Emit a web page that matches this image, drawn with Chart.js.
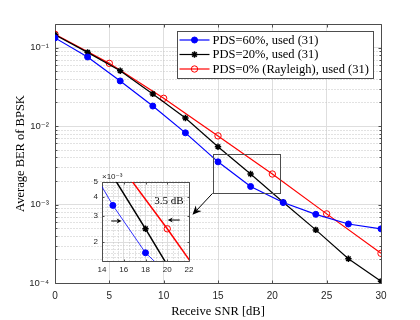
<!DOCTYPE html>
<html>
<head>
<meta charset="utf-8">
<script src="https://cdn.jsdelivr.net/npm/chart.js@4/dist/chart.umd.min.js"></script>
<style>
  html, body { margin: 0; padding: 0; background: #fff; }
  #wrap { position: relative; width: 420px; height: 320px; }
  #main { position: absolute; left: 0; top: 0; }
  #inset { position: absolute; left: 80px; top: 168px; }
</style>
</head>
<body>
<div id="wrap">
  <canvas id="main" width="420" height="320"></canvas>
  <canvas id="inset" width="120" height="110"></canvas>
</div>
<script>
// data
const snr = [0, 3, 6, 9, 12, 15, 18, 21, 24, 27, 30];
const berPds60 = [0.133, 0.076, 0.0376, 0.018, 0.0082, 0.0035, 0.0017, 0.00106, 0.00075, 0.000565, 0.00049];
const berPds20 = [0.146, 0.087, 0.0508, 0.0257, 0.0127, 0.00546, 0.00245, 0.00107, 0.000475, 0.000204, 0.000105];
const snrRayleigh = [0, 5, 10, 15, 20, 25, 30];
const berRayleigh = [0.148, 0.063, 0.0226, 0.0075, 0.00245, 0.00076, 0.000239];
const seriesLabels = ["PDS=60%, used (31)", "PDS=20%, used (31)", "PDS=0% (Rayleigh), used (31)"];
const seriesColors = ["#0000ff", "#000000", "#ff0000"];

const xTicks = [0, 5, 10, 15, 20, 25, 30];
const yTicks = [1e-4, 1e-3, 1e-2, 1e-1];
const insetXTicks = [14, 16, 18, 20, 22];
const insetYTicks = [2e-3, 3e-3, 4e-3, 5e-3];

const serif = "'Liberation Serif', 'Times New Roman', serif";
const sans = "'Liberation Sans', 'DejaVu Sans', Arial, sans-serif";
const frameColor = "#4d4d4d";
const textColor = "#262626";
const gridColor = "#dedede";
const minorGridColor = "#c4c4c4";

function toPoints(xs, ys) {
  return xs.map((x, i) => ({ x: x, y: ys[i] }));
}

function sup(n) {
  const m = { "-": "\u207b", "0": "\u2070", "1": "\u00b9", "2": "\u00b2", "3": "\u00b3", "4": "\u2074", "5": "\u2075", "6": "\u2076", "7": "\u2077", "8": "\u2078", "9": "\u2079" };
  return String(n).split("").map((c) => m[c]).join("");
}

function minorLogValues(min, max) {
  const out = [];
  for (let e = Math.floor(Math.log10(min)); e <= Math.ceil(Math.log10(max)); e++) {
    for (let k = 2; k <= 9; k++) {
      const v = k * Math.pow(10, e);
      if (v > min * 1.0001 && v < max * 0.9999) out.push(v);
    }
  }
  return out;
}

function makeDatasets(thin) {
  return [
    {
      label: seriesLabels[0],
      data: toPoints(snr, berPds60),
      borderColor: seriesColors[0],
      backgroundColor: seriesColors[0],
      borderWidth: thin ? 0.8 : 1.2,
      pointStyle: "circle",
      pointRadius: 3,
      pointBorderWidth: 1,
    },
    {
      label: seriesLabels[1],
      data: toPoints(snr, berPds20),
      borderColor: seriesColors[1],
      backgroundColor: seriesColors[1],
      borderWidth: thin ? 1.5 : 1.2,
      pointStyle: "star",
      pointRadius: 3.2,
      pointBorderWidth: 1.5,
    },
    {
      label: seriesLabels[2],
      data: toPoints(snrRayleigh, berRayleigh),
      borderColor: seriesColors[2],
      backgroundColor: "rgba(0,0,0,0)",
      borderWidth: thin ? 1.5 : 1.2,
      pointStyle: "circle",
      pointRadius: 3.2,
      pointBorderWidth: 1,
    },
  ];
}

// dotted minor grid, box frame and inward tick marks
function drawBox(chart, minorX, minorY, tickLen, minorLen) {
  const { ctx, chartArea: a, scales: { x, y } } = chart;
  const L = Math.round(a.left) + 0.5, R = Math.round(a.right) + 0.5;
  const T = Math.round(a.top) + 0.5, B = Math.round(a.bottom) + 0.5;
  ctx.save();
  ctx.lineWidth = 1;
  ctx.strokeStyle = minorGridColor;
  ctx.setLineDash([1, 2]);
  ctx.beginPath();
  minorX.forEach((v) => {
    const p = Math.round(x.getPixelForValue(v)) + 0.5;
    ctx.moveTo(p, T); ctx.lineTo(p, B);
  });
  minorY.forEach((v) => {
    const p = Math.round(y.getPixelForValue(v)) + 0.5;
    ctx.moveTo(L, p); ctx.lineTo(R, p);
  });
  ctx.stroke();
  ctx.setLineDash([]);
  ctx.strokeStyle = frameColor;
  ctx.beginPath();
  ctx.rect(L, T, R - L, B - T);
  x.ticks.forEach((t) => {
    const p = Math.round(x.getPixelForValue(t.value)) + 0.5;
    ctx.moveTo(p, B); ctx.lineTo(p, B - tickLen);
    ctx.moveTo(p, T); ctx.lineTo(p, T + tickLen);
  });
  y.ticks.forEach((t) => {
    const p = Math.round(y.getPixelForValue(t.value)) + 0.5;
    ctx.moveTo(L, p); ctx.lineTo(L + tickLen, p);
    ctx.moveTo(R, p); ctx.lineTo(R - tickLen, p);
  });
  if (minorLen) {
    minorY.forEach((v) => {
      const p = Math.round(y.getPixelForValue(v)) + 0.5;
      ctx.moveTo(L, p); ctx.lineTo(L + minorLen, p);
      ctx.moveTo(R, p); ctx.lineTo(R - minorLen, p);
    });
  }
  ctx.stroke();
  ctx.restore();
}

function drawArrow(ctx, x1, y1, x2, y2, len, half) {
  const ang = Math.atan2(y2 - y1, x2 - x1);
  const c = Math.cos(ang), s = Math.sin(ang);
  ctx.beginPath();
  ctx.moveTo(x1, y1);
  ctx.lineTo(x2 - c * len * 0.7, y2 - s * len * 0.7);
  ctx.stroke();
  ctx.beginPath();
  ctx.moveTo(x2, y2);
  ctx.lineTo(x2 - c * len - s * half, y2 - s * len + c * half);
  ctx.lineTo(x2 - c * len * 0.7, y2 - s * len * 0.7);
  ctx.lineTo(x2 - c * len + s * half, y2 - s * len - c * half);
  ctx.closePath();
  ctx.fill();
}

function drawMarker(ctx, ds, cx, cy) {
  ctx.save();
  ctx.strokeStyle = ds.borderColor;
  ctx.fillStyle = ds.backgroundColor;
  ctx.lineWidth = ds.pointBorderWidth;
  const r = ds.pointRadius;
  if (ds.pointStyle === "star") {
    ctx.beginPath();
    for (let k = 0; k < 4; k++) {
      const a = (k * Math.PI) / 4;
      ctx.moveTo(cx - r * Math.cos(a), cy - r * Math.sin(a));
      ctx.lineTo(cx + r * Math.cos(a), cy + r * Math.sin(a));
    }
    ctx.stroke();
  } else {
    ctx.beginPath();
    ctx.arc(cx, cy, r, 0, Math.PI * 2);
    ctx.fill();
    ctx.stroke();
  }
  ctx.restore();
}

const mainBox = {
  id: "mainBox",
  beforeDatasetsDraw(chart) {
    const y = chart.scales.y;
    drawBox(chart, [], minorLogValues(y.min, y.max), 3, 2);
  },
  afterDatasetsDraw(chart) {
    const { ctx, chartArea: a, scales: { x, y } } = chart;
    ctx.save();
    // zoom rectangle and arrow to the inset
    ctx.strokeStyle = frameColor;
    ctx.fillStyle = "#000";
    ctx.lineWidth = 1;
    const rx1 = x.getPixelForValue(14.5), rx2 = x.getPixelForValue(20.7);
    const ry1 = y.getPixelForValue(4.4e-3), ry2 = y.getPixelForValue(1.39e-3);
    ctx.strokeRect(Math.round(rx1) + 0.5, Math.round(ry1) + 0.5, Math.round(rx2 - rx1), Math.round(ry2 - ry1));
    ctx.strokeStyle = "#000";
    drawArrow(ctx, rx1, ry2, x.getPixelForValue(12.65), y.getPixelForValue(7.4e-4), 9, 4);

    // legend
    ctx.font = "12.5px " + serif;
    const tw = Math.max(...seriesLabels.map((t) => ctx.measureText(t).width));
    const w = Math.round(35 + tw + 5), h = 47;
    const lx = Math.round(a.right - 8 - w) + 0.5, ly = Math.round(a.top + 7) + 0.5;
    ctx.fillStyle = "#fff";
    ctx.fillRect(lx, ly, w, h);
    ctx.strokeStyle = frameColor;
    ctx.strokeRect(lx, ly, w, h);
    chart.data.datasets.forEach((ds, i) => {
      const ry = ly + 8.5 + i * 14.5;
      ctx.strokeStyle = ds.borderColor;
      ctx.lineWidth = 1.2;
      ctx.beginPath();
      ctx.moveTo(lx + 2, ry);
      ctx.lineTo(lx + 32, ry);
      ctx.stroke();
      drawMarker(ctx, ds, lx + 17, ry);
      ctx.fillStyle = "#000";
      ctx.textBaseline = "middle";
      ctx.textAlign = "left";
      ctx.fillText(ds.label, lx + 35, ry + 0.5);
    });
    ctx.restore();
  },
};

const insetBox = {
  id: "insetBox",
  beforeDraw(chart) {
    const { ctx, chartArea: a } = chart;
    ctx.save();
    ctx.fillStyle = "#fff";
    ctx.fillRect(a.left, a.top, a.right - a.left, a.bottom - a.top);
    ctx.restore();
  },
  beforeDatasetsDraw(chart) {
    const minorX = [14.5, 15, 15.5, 16.5, 17, 17.5, 18.5, 19, 19.5, 20.5, 21, 21.5];
    const minorY = [1.6e-3, 1.7e-3, 1.8e-3, 1.9e-3, 2.2e-3, 2.4e-3, 2.6e-3, 2.8e-3, 3.2e-3, 3.4e-3, 3.6e-3, 3.8e-3, 4.2e-3, 4.4e-3, 4.6e-3, 4.8e-3];
    drawBox(chart, minorX, minorY, 2, 0);
  },
  afterDatasetsDraw(chart) {
    const { ctx, chartArea: a, scales: { x, y } } = chart;
    ctx.save();
    ctx.fillStyle = "#000";
    ctx.strokeStyle = "#000";
    ctx.lineWidth = 1;
    drawArrow(ctx, x.getPixelForValue(14.85), y.getPixelForValue(2.76e-3), x.getPixelForValue(15.8), y.getPixelForValue(2.76e-3), 5, 2.5);
    drawArrow(ctx, x.getPixelForValue(21.15), y.getPixelForValue(2.8e-3), x.getPixelForValue(20.05), y.getPixelForValue(2.8e-3), 5, 2.5);
    ctx.font = "11px " + serif;
    ctx.textAlign = "center";
    ctx.textBaseline = "middle";
    ctx.fillText("3.5 dB", x.getPixelForValue(20.15), y.getPixelForValue(3.75e-3));
    ctx.font = "8px " + sans;
    ctx.fillStyle = textColor;
    ctx.textAlign = "left";
    ctx.textBaseline = "bottom";
    ctx.fillText("\u00d710" + sup(-3), a.left, a.top - 1);
    ctx.restore();
  },
};

new Chart(document.getElementById("main"), {
  type: "line",
  data: { datasets: makeDatasets(false) },
  options: {
    responsive: false,
    animation: false,
    layout: { padding: { top: 24, right: 39, left: 0, bottom: 0 } },
    plugins: { legend: { display: false }, tooltip: { enabled: false } },
    scales: {
      x: {
        type: "linear",
        min: 0,
        max: 30,
        afterBuildTicks: (s) => { s.ticks = xTicks.map((v) => ({ value: v })); },
        afterFit: (s) => { s.height = 37; },
        ticks: { color: textColor, font: { family: sans, size: 10 }, padding: 7, maxRotation: 0, autoSkip: false },
        grid: { color: gridColor, drawTicks: false },
        border: { display: false },
        title: { display: true, text: "Receive SNR [dB]", color: "#000", font: { family: serif, size: 12.5 }, padding: { top: 0, bottom: 1 } },
      },
      y: {
        type: "logarithmic",
        min: 1e-4,
        max: 0.2,
        afterBuildTicks: (s) => { s.ticks = yTicks.map((v) => ({ value: v })); },
        afterFit: (s) => { s.width = 55; },
        ticks: {
          color: textColor,
          font: { family: sans, size: 9.5 },
          padding: 6,
          autoSkip: false,
          callback: (v) => "10" + sup(Math.round(Math.log10(v))),
        },
        grid: { color: gridColor, drawTicks: false },
        border: { display: false },
        title: { display: true, text: "Average BER of BPSK", color: "#000", font: { family: serif, size: 12.5 }, padding: { top: 13, bottom: 0 } },
      },
    },
  },
  plugins: [mainBox],
});

new Chart(document.getElementById("inset"), {
  type: "line",
  data: { datasets: makeDatasets(true) },
  options: {
    responsive: false,
    animation: false,
    layout: { padding: { top: 14, right: 11, left: 0, bottom: 0 } },
    plugins: { legend: { display: false }, tooltip: { enabled: false } },
    scales: {
      x: {
        type: "linear",
        min: 14,
        max: 22,
        afterBuildTicks: (s) => { s.ticks = insetXTicks.map((v) => ({ value: v })); },
        afterFit: (s) => { s.height = 17; },
        ticks: { color: textColor, font: { family: sans, size: 8 }, padding: 4, maxRotation: 0, autoSkip: false },
        grid: { color: gridColor, drawTicks: false },
        border: { display: false },
      },
      y: {
        type: "logarithmic",
        min: 1.5e-3,
        max: 5e-3,
        afterBuildTicks: (s) => { s.ticks = insetYTicks.map((v) => ({ value: v })); },
        afterFit: (s) => { s.width = 22; },
        ticks: {
          color: textColor,
          font: { family: sans, size: 8 },
          padding: 4,
          autoSkip: false,
          callback: (v) => String(Math.round(v * 1000)),
        },
        grid: { color: gridColor, drawTicks: false },
        border: { display: false },
      },
    },
  },
  plugins: [insetBox],
});
</script>
</body>
</html>
